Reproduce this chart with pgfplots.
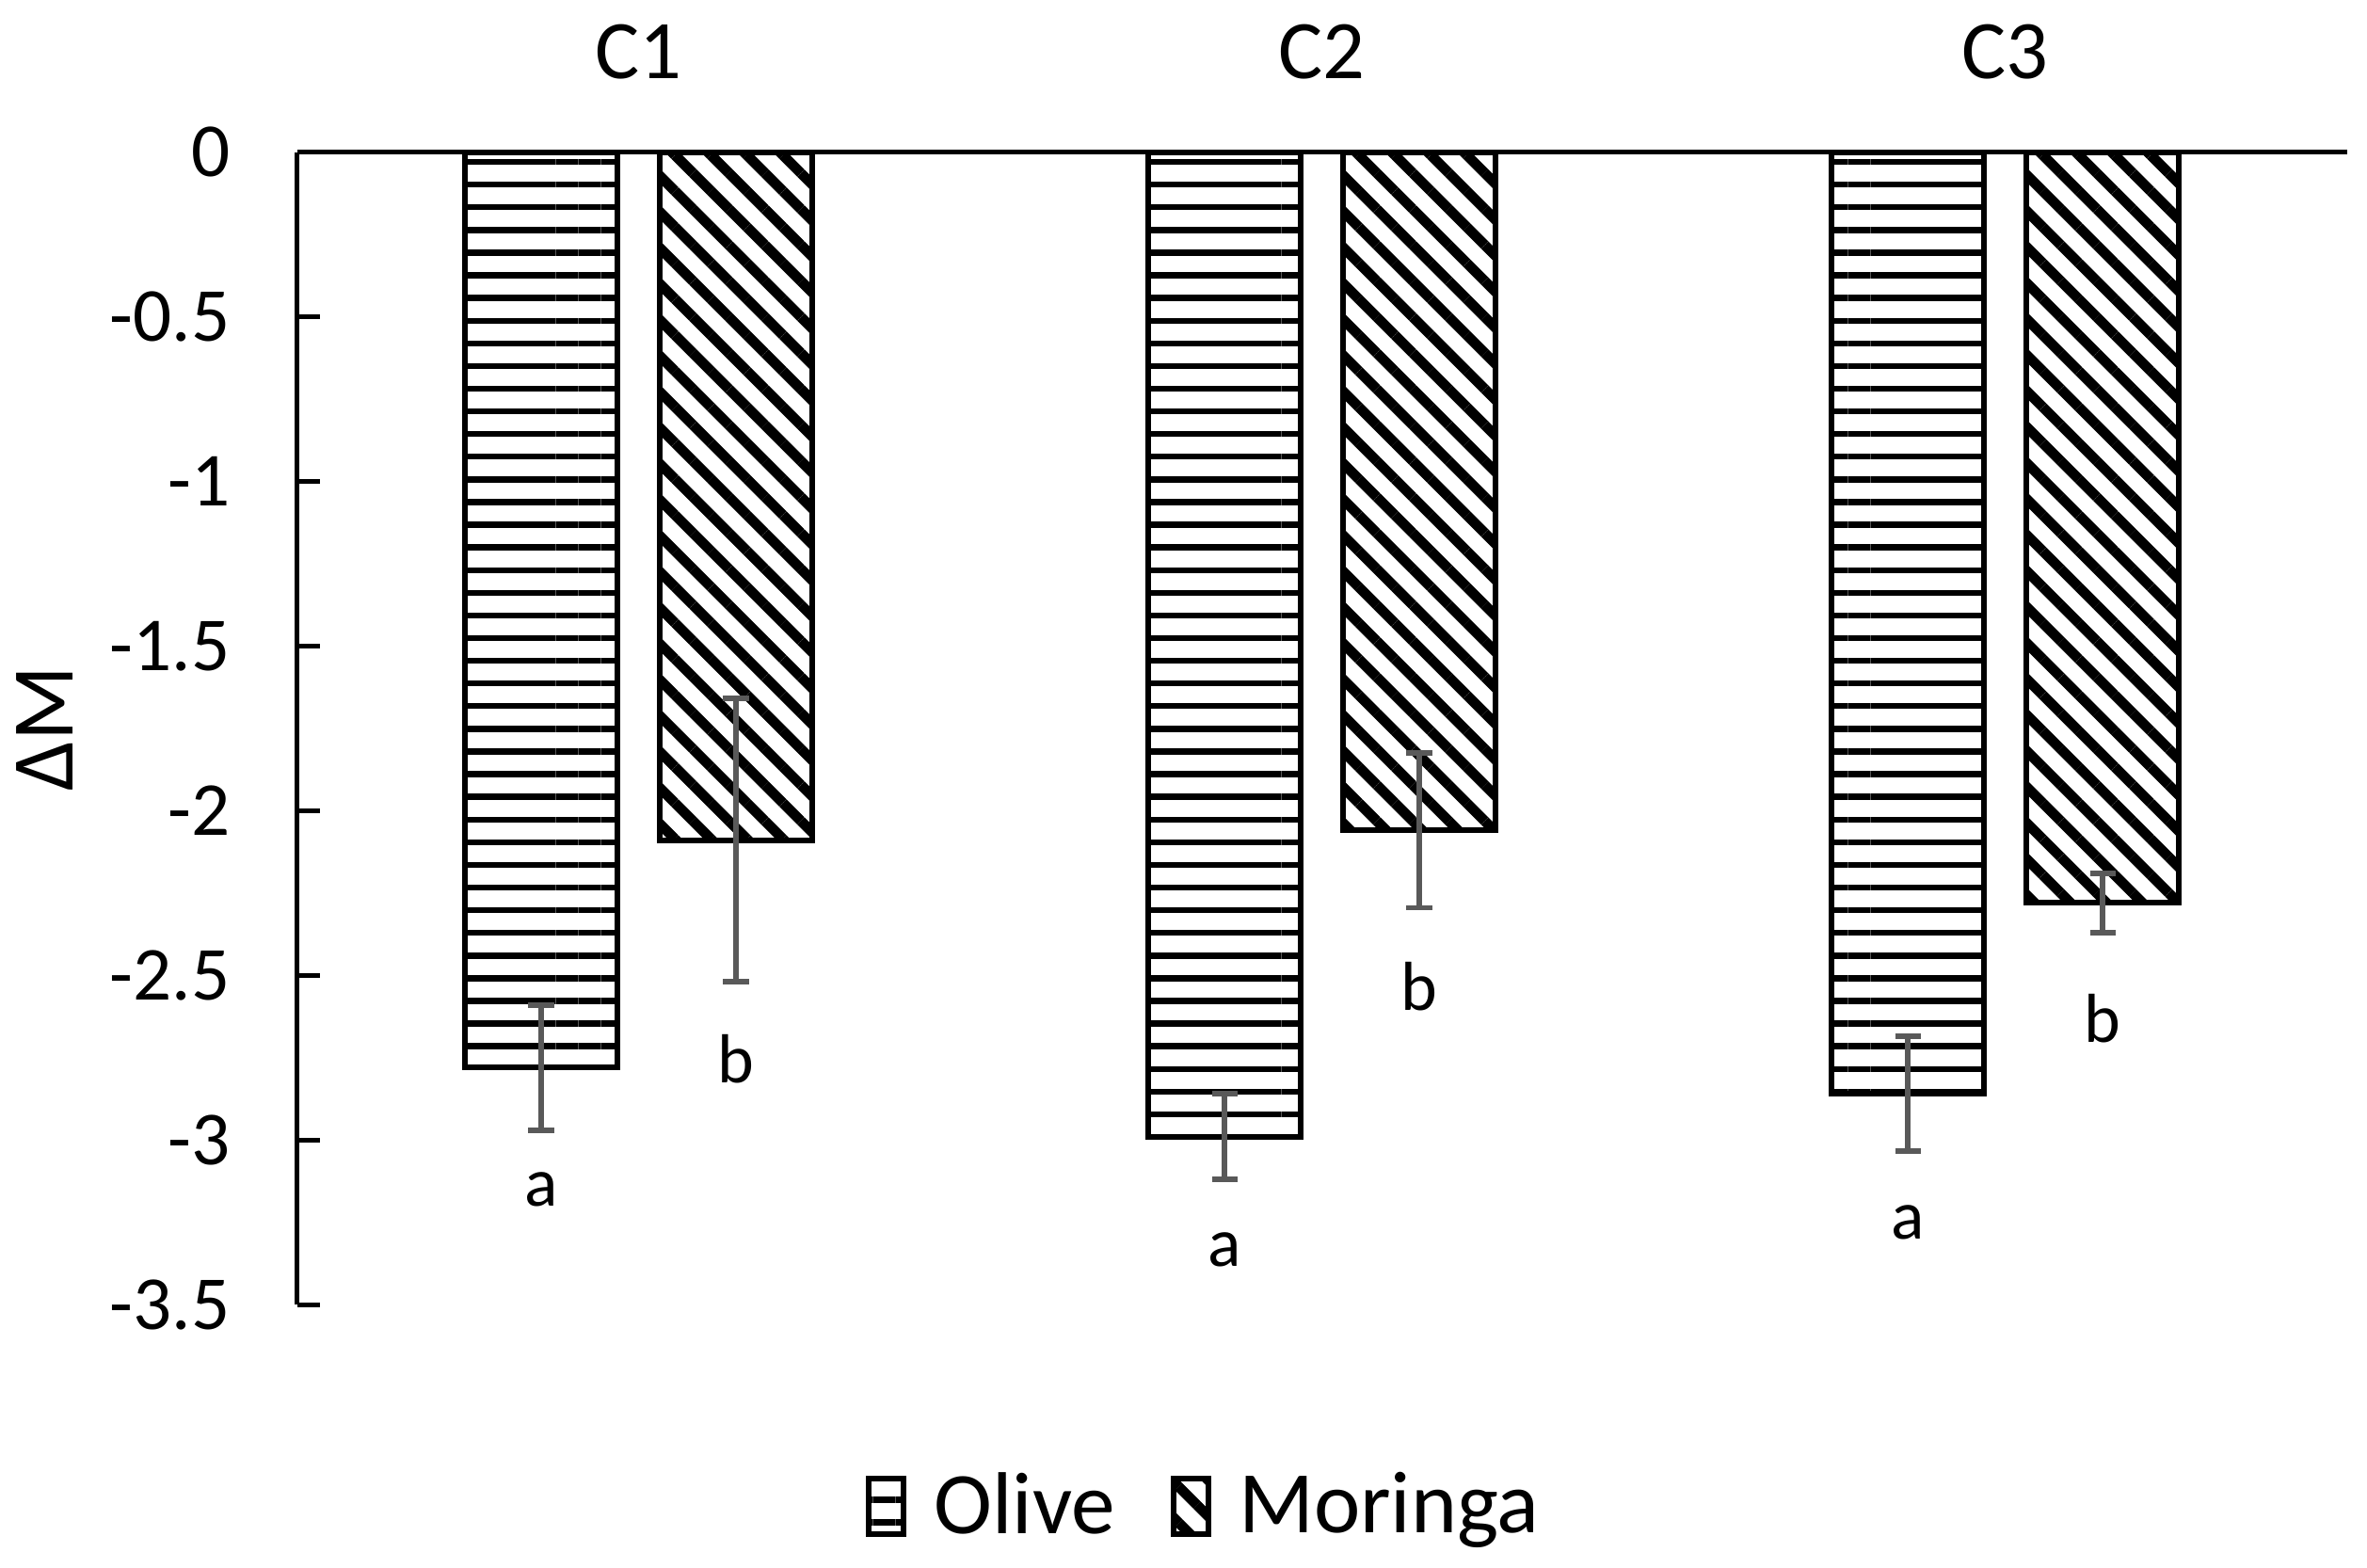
\documentclass[border=0pt]{standalone}
\usepackage{fontspec}
\setmainfont{Carlito}
\usepackage{pgfplots}
\pgfplotsset{compat=1.18}
\usetikzlibrary{patterns.meta}

\definecolor{errgray}{HTML}{595959}

\begin{document}
\begin{tikzpicture}
\begin{axis}[
    width=443pt, height=249pt, scale only axis,
    xmin=-0.5, xmax=2.5,
    ymin=-3.5, ymax=0,
    axis x line=top, axis y line=left,
    axis line style={-, line width=1pt, black},
    xtick={0,1,2},
    xticklabels={C1,C2,C3},
    xtick style={draw=none},
    xticklabel style={font=\fontsize{18}{21}\selectfont, yshift=12.3pt},
    ytick={-3.5,-3,-2.5,-2,-1.5,-1,-0.5,0},
    yticklabels={-3.5,-3,-2.5,-2,-1.5,-1,-0.5,0},
    yticklabel style={font=\fontsize{16.5}{19}\selectfont, xshift=-11pt},
    tick align=inside,
    major tick length=5pt,
    ytick style={line width=1pt, black},
    ylabel={ΔM},
    ylabel style={at={(axis description cs:-0.123,0.5)}, anchor=center,
        font=\fontsize{19}{22}\selectfont},
    clip=false,
    legend columns=2,
    legend style={at={(axis description cs:0.444,-0.175)}, anchor=center,
        draw=none, font=\fontsize{19}{22}\selectfont,
        /tikz/every odd column/.append style={column sep=4pt},
        /tikz/every even column/.append style={column sep=10pt}},
    legend image code/.code={\draw[#1, line width=1.2pt] (0pt,-6pt) rectangle (7.5pt,6pt);},
]
% Olive (bars placed left of each category centre)
\addplot[ybar, bar width=0.223, bar shift=0pt, draw=black, line width=1.2pt,
    pattern={Lines[angle=0, distance=4.9pt, line width=1.3pt]},
    error bars/.cd, y dir=both, y explicit,
    error bar style={line width=1.2pt, errgray},
    error mark options={rotate=90, mark size=2.8pt, line width=1.2pt, errgray}]
coordinates {
    (-0.1425,-2.78) +- (0,0.19)
    (0.8575,-2.99) +- (0,0.13)
    (1.8575,-2.86) +- (0,0.175)
};
\addlegendentry{Olive}
% Moringa (bars placed right of each category centre)
\addplot[ybar, bar width=0.223, bar shift=0pt, draw=black, line width=1.2pt,
    pattern={Lines[angle=-45, distance=5.5pt, line width=2.2pt]},
    error bars/.cd, y dir=both, y explicit,
    error bar style={line width=1.2pt, errgray},
    error mark options={rotate=90, mark size=2.8pt, line width=1.2pt, errgray}]
coordinates {
    (0.1425,-2.09) +- (0,0.43)
    (1.1425,-2.06) +- (0,0.235)
    (2.1425,-2.28) +- (0,0.09)
};
\addlegendentry{Moringa}

\begin{scope}[every node/.style={font=\fontsize{15}{18}\selectfont, anchor=base, inner sep=0pt}]
\node at (axis cs:-0.1425,-3.201) {a};
\node at (axis cs:0.1425,-2.827) {b};
\node at (axis cs:0.8575,-3.384) {a};
\node at (axis cs:1.1425,-2.607) {b};
\node at (axis cs:1.8575,-3.301) {a};
\node at (axis cs:2.1425,-2.704) {b};
\end{scope}

\coordinate (SW) at (rel axis cs:0,0);
\coordinate (NE) at (rel axis cs:1,1);
\end{axis}
\path ([xshift=-64.2pt,yshift=-56.9pt]SW) rectangle ([xshift=4.3pt,yshift=32.9pt]NE);
\end{tikzpicture}
\end{document}
